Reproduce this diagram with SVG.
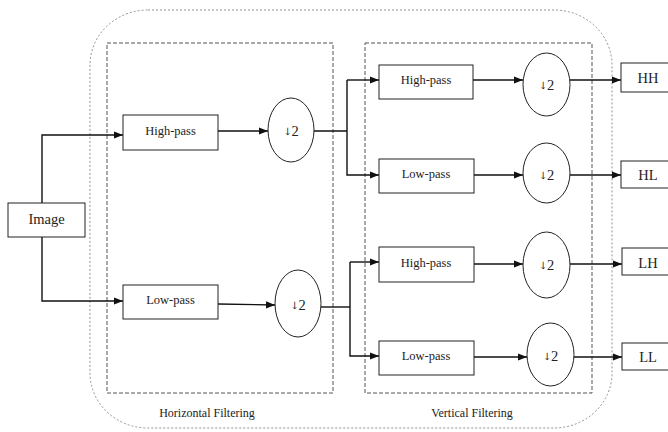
<svg xmlns="http://www.w3.org/2000/svg" width="668" height="432" viewBox="0 0 668 432">
  <style>
    .box { fill: #fff; stroke: #222; stroke-width: 1; }
    .ell { fill: #fff; stroke: #222; stroke-width: 1; }
    text { font-family: 'Liberation Serif', 'DejaVu Serif', serif; fill: #222; }
    .lbl { font-size: 12.5px; text-anchor: middle; dominant-baseline: central; }
    .big { font-size: 14.5px; }
    .dn { font-family: 'DejaVu Serif', serif; font-size: 10px; }
    .cap { font-size: 12px; text-anchor: middle; }
    .wire { fill: none; stroke: #111; stroke-width: 1.4; }
    .arr { fill: none; stroke: #111; stroke-width: 1.4; marker-end: url(#ah); }
  </style>
  <defs>
    <marker id="ah" viewBox="0 0 10 10" refX="10" refY="5" markerWidth="9" markerHeight="9" markerUnits="userSpaceOnUse" orient="auto">
      <path d="M0,1 L10,5 L0,9 z" fill="#111"/>
    </marker>
  </defs>
  <rect width="668" height="432" fill="#fff"/>

  <!-- enclosing frames -->
  <g id="frames">
    <rect x="90" y="10" width="522" height="418" rx="58" ry="55" fill="none" stroke="#888" stroke-width="0.9" stroke-dasharray="2,2"/>
    <rect x="107" y="43" width="226" height="350" fill="none" stroke="#555" stroke-width="1" stroke-dasharray="4,2"/>
    <rect x="365" y="43" width="227" height="350" fill="none" stroke="#555" stroke-width="1" stroke-dasharray="4,2"/>
    <text class="cap" x="207" y="417">Horizontal Filtering</text>
    <text class="cap" x="472" y="417">Vertical Filtering</text>
  </g>

  <!-- connectors -->
  <g id="connectors">
    <polyline class="arr" points="42,203 42,135 123,135"/>
    <polyline class="arr" points="42,237 42,301 123,301"/>
    <line class="arr" x1="218" y1="131" x2="268" y2="131"/>
    <line class="arr" x1="218" y1="304" x2="275" y2="305"/>
    <polyline class="wire" points="314,131 347,131"/>
    <polyline class="arr" points="347,80 347,175 379,175"/>
    <line class="arr" x1="347" y1="80" x2="379" y2="80"/>
    <polyline class="wire" points="321,307 350,307"/>
    <polyline class="arr" points="350,262 350,356 379,356"/>
    <line class="arr" x1="350" y1="262" x2="379" y2="262"/>
    <line class="arr" x1="473" y1="80" x2="523" y2="80"/>
    <line class="arr" x1="474" y1="175" x2="523" y2="175"/>
    <line class="arr" x1="474" y1="264" x2="523" y2="264"/>
    <line class="arr" x1="474" y1="357" x2="527" y2="357"/>
    <line class="arr" x1="570" y1="80" x2="621" y2="80"/>
    <line class="arr" x1="570" y1="175" x2="621" y2="175"/>
    <line class="arr" x1="570" y1="264" x2="622" y2="264"/>
    <line class="arr" x1="574" y1="357" x2="622" y2="357"/>
  </g>

  <g id="image"><rect class="box" x="8" y="203" width="77" height="34"/><text class="lbl big" x="46.5" y="219">Image</text></g>

  <g id="h-high"><rect class="box" x="123" y="115" width="95" height="35"/><text class="lbl" x="170.5" y="131">High-pass</text></g>
  <g id="h-low"><rect class="box" x="123" y="285" width="95" height="34"/><text class="lbl" x="170.5" y="300">Low-pass</text></g>
  <g id="h-down1"><ellipse class="ell" cx="291" cy="130" rx="23" ry="32"/><text class="lbl big" x="291" y="131"><tspan class="dn">↓</tspan>2</text></g>
  <g id="h-down2"><ellipse class="ell" cx="298" cy="303.5" rx="23" ry="33.5"/><text class="lbl big" x="298" y="305"><tspan class="dn">↓</tspan>2</text></g>

  <g id="v-high1"><rect class="box" x="379" y="65" width="94" height="34"/><text class="lbl" x="426" y="80">High-pass</text></g>
  <g id="v-low1"><rect class="box" x="379" y="159" width="95" height="34"/><text class="lbl" x="426" y="174">Low-pass</text></g>
  <g id="v-high2"><rect class="box" x="379" y="247" width="95" height="35"/><text class="lbl" x="426" y="263">High-pass</text></g>
  <g id="v-low2"><rect class="box" x="379" y="341" width="95" height="34"/><text class="lbl" x="426" y="356">Low-pass</text></g>

  <g id="v-down1"><ellipse class="ell" cx="546.5" cy="84.5" rx="23.5" ry="31.5"/><text class="lbl big" x="546.5" y="85"><tspan class="dn">↓</tspan>2</text></g>
  <g id="v-down2"><ellipse class="ell" cx="546.5" cy="173" rx="23.5" ry="30"/><text class="lbl big" x="546.5" y="175"><tspan class="dn">↓</tspan>2</text></g>
  <g id="v-down3"><ellipse class="ell" cx="546.5" cy="265" rx="23.5" ry="33"/><text class="lbl big" x="546.5" y="265"><tspan class="dn">↓</tspan>2</text></g>
  <g id="v-down4"><ellipse class="ell" cx="550.5" cy="354.5" rx="23.5" ry="31.5"/><text class="lbl big" x="550.5" y="356"><tspan class="dn">↓</tspan>2</text></g>

  <g id="out-hh"><rect class="box" x="621" y="63" width="52" height="29"/><text class="lbl big" x="648" y="78">HH</text></g>
  <g id="out-hl"><rect class="box" x="621" y="161" width="52" height="27"/><text class="lbl big" x="648" y="175">HL</text></g>
  <g id="out-lh"><rect class="box" x="622" y="248" width="51" height="27"/><text class="lbl big" x="648" y="263">LH</text></g>
  <g id="out-ll"><rect class="box" x="622" y="343" width="51" height="27"/><text class="lbl big" x="648" y="357">LL</text></g>
</svg>
